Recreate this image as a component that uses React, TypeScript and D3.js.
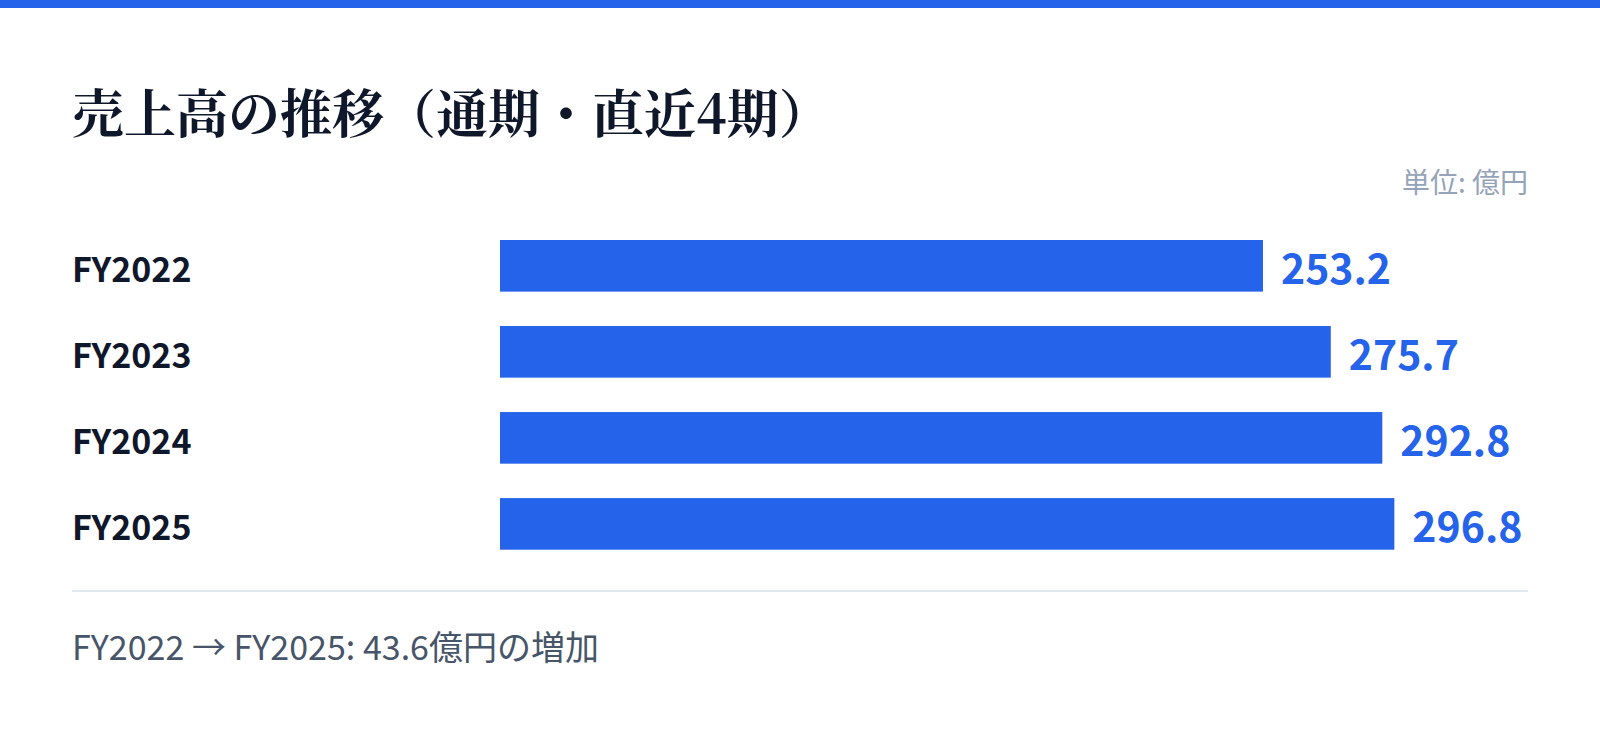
import React, { useEffect, useRef } from "react";
import * as d3 from "d3";

// 売上高（億円）
const periods = ["FY2022", "FY2023", "FY2024", "FY2025"];
const sales = [253.2, 275.7, 292.8, 296.8];

const titleText = "売上高の推移（通期・直近4期）";
const unitText = "単位: 億円";

const WIDTH = 1600;
const HEIGHT = 733;
const sansFont = "'Noto Sans CJK JP', 'Noto Sans', sans-serif";
const serifFont = "'Noto Serif CJK JP', 'Liberation Serif', serif";

export default function App() {
  const svgRef = useRef<SVGSVGElement>(null);

  useEffect(() => {
    if (!svgRef.current) return;
    const svg = d3.select(svgRef.current);
    svg.selectAll("*").remove();

    const left = 72;
    const right = WIDTH - 72;
    const barLeft = 500;

    // top accent band
    svg.append("rect")
      .attr("x", 0).attr("y", 0)
      .attr("width", WIDTH).attr("height", 8)
      .attr("fill", "#2563eb");

    svg.append("text")
      .attr("x", left).attr("y", 133)
      .attr("font-family", serifFont)
      .attr("font-weight", 700)
      .attr("font-size", 52)
      .attr("fill", "#0f172a")
      .text(titleText);

    svg.append("text")
      .attr("x", right).attr("y", 193)
      .attr("text-anchor", "end")
      .attr("font-family", sansFont)
      .attr("font-size", 28)
      .attr("fill", "#94a3b8")
      .text(unitText);

    const x = d3.scaleLinear()
      .domain([0, d3.max(sales)! / 0.87])
      .range([barLeft, right]);
    const y = d3.scaleBand<string>()
      .domain(periods)
      .range([240, 549.7])
      .paddingInner(0.4)
      .paddingOuter(0);

    const rows = svg.append("g")
      .selectAll("g")
      .data(periods)
      .enter().append("g");

    rows.append("text")
      .attr("x", left)
      .attr("y", d => y(d)! + y.bandwidth() / 2 + 16)
      .attr("font-family", sansFont)
      .attr("font-weight", 700)
      .attr("font-size", 34)
      .attr("fill", "#0f172a")
      .text(d => d);

    rows.append("rect")
      .attr("x", x(0))
      .attr("y", d => y(d)!)
      .attr("width", (d, i) => x(sales[i]) - x(0))
      .attr("height", y.bandwidth())
      .attr("fill", "#2563eb");

    rows.append("text")
      .attr("x", (d, i) => x(sales[i]) + 18)
      .attr("y", d => y(d)! + y.bandwidth() / 2 + 18)
      .attr("font-family", sansFont)
      .attr("font-weight", 700)
      .attr("font-size", 41)
      .attr("fill", "#2563eb")
      .text((d, i) => sales[i].toFixed(1));

    // separator
    svg.append("line")
      .attr("x1", left).attr("x2", right)
      .attr("y1", 591).attr("y2", 591)
      .attr("stroke", "#e2e8f0")
      .attr("stroke-width", 2);

    const diff = sales[sales.length - 1] - sales[0];
    svg.append("text")
      .attr("x", left).attr("y", 660)
      .attr("font-family", sansFont)
      .attr("font-size", 34)
      .attr("fill", "#475569")
      .text(`${periods[0]} → ${periods[periods.length - 1]}: ${diff.toFixed(1)}億円の増加`);
  }, []);

  return (
    <svg
      ref={svgRef}
      width={WIDTH}
      height={HEIGHT}
      style={{ position: "absolute", top: 0, left: 0, background: "#ffffff" }}
    />
  );
}
